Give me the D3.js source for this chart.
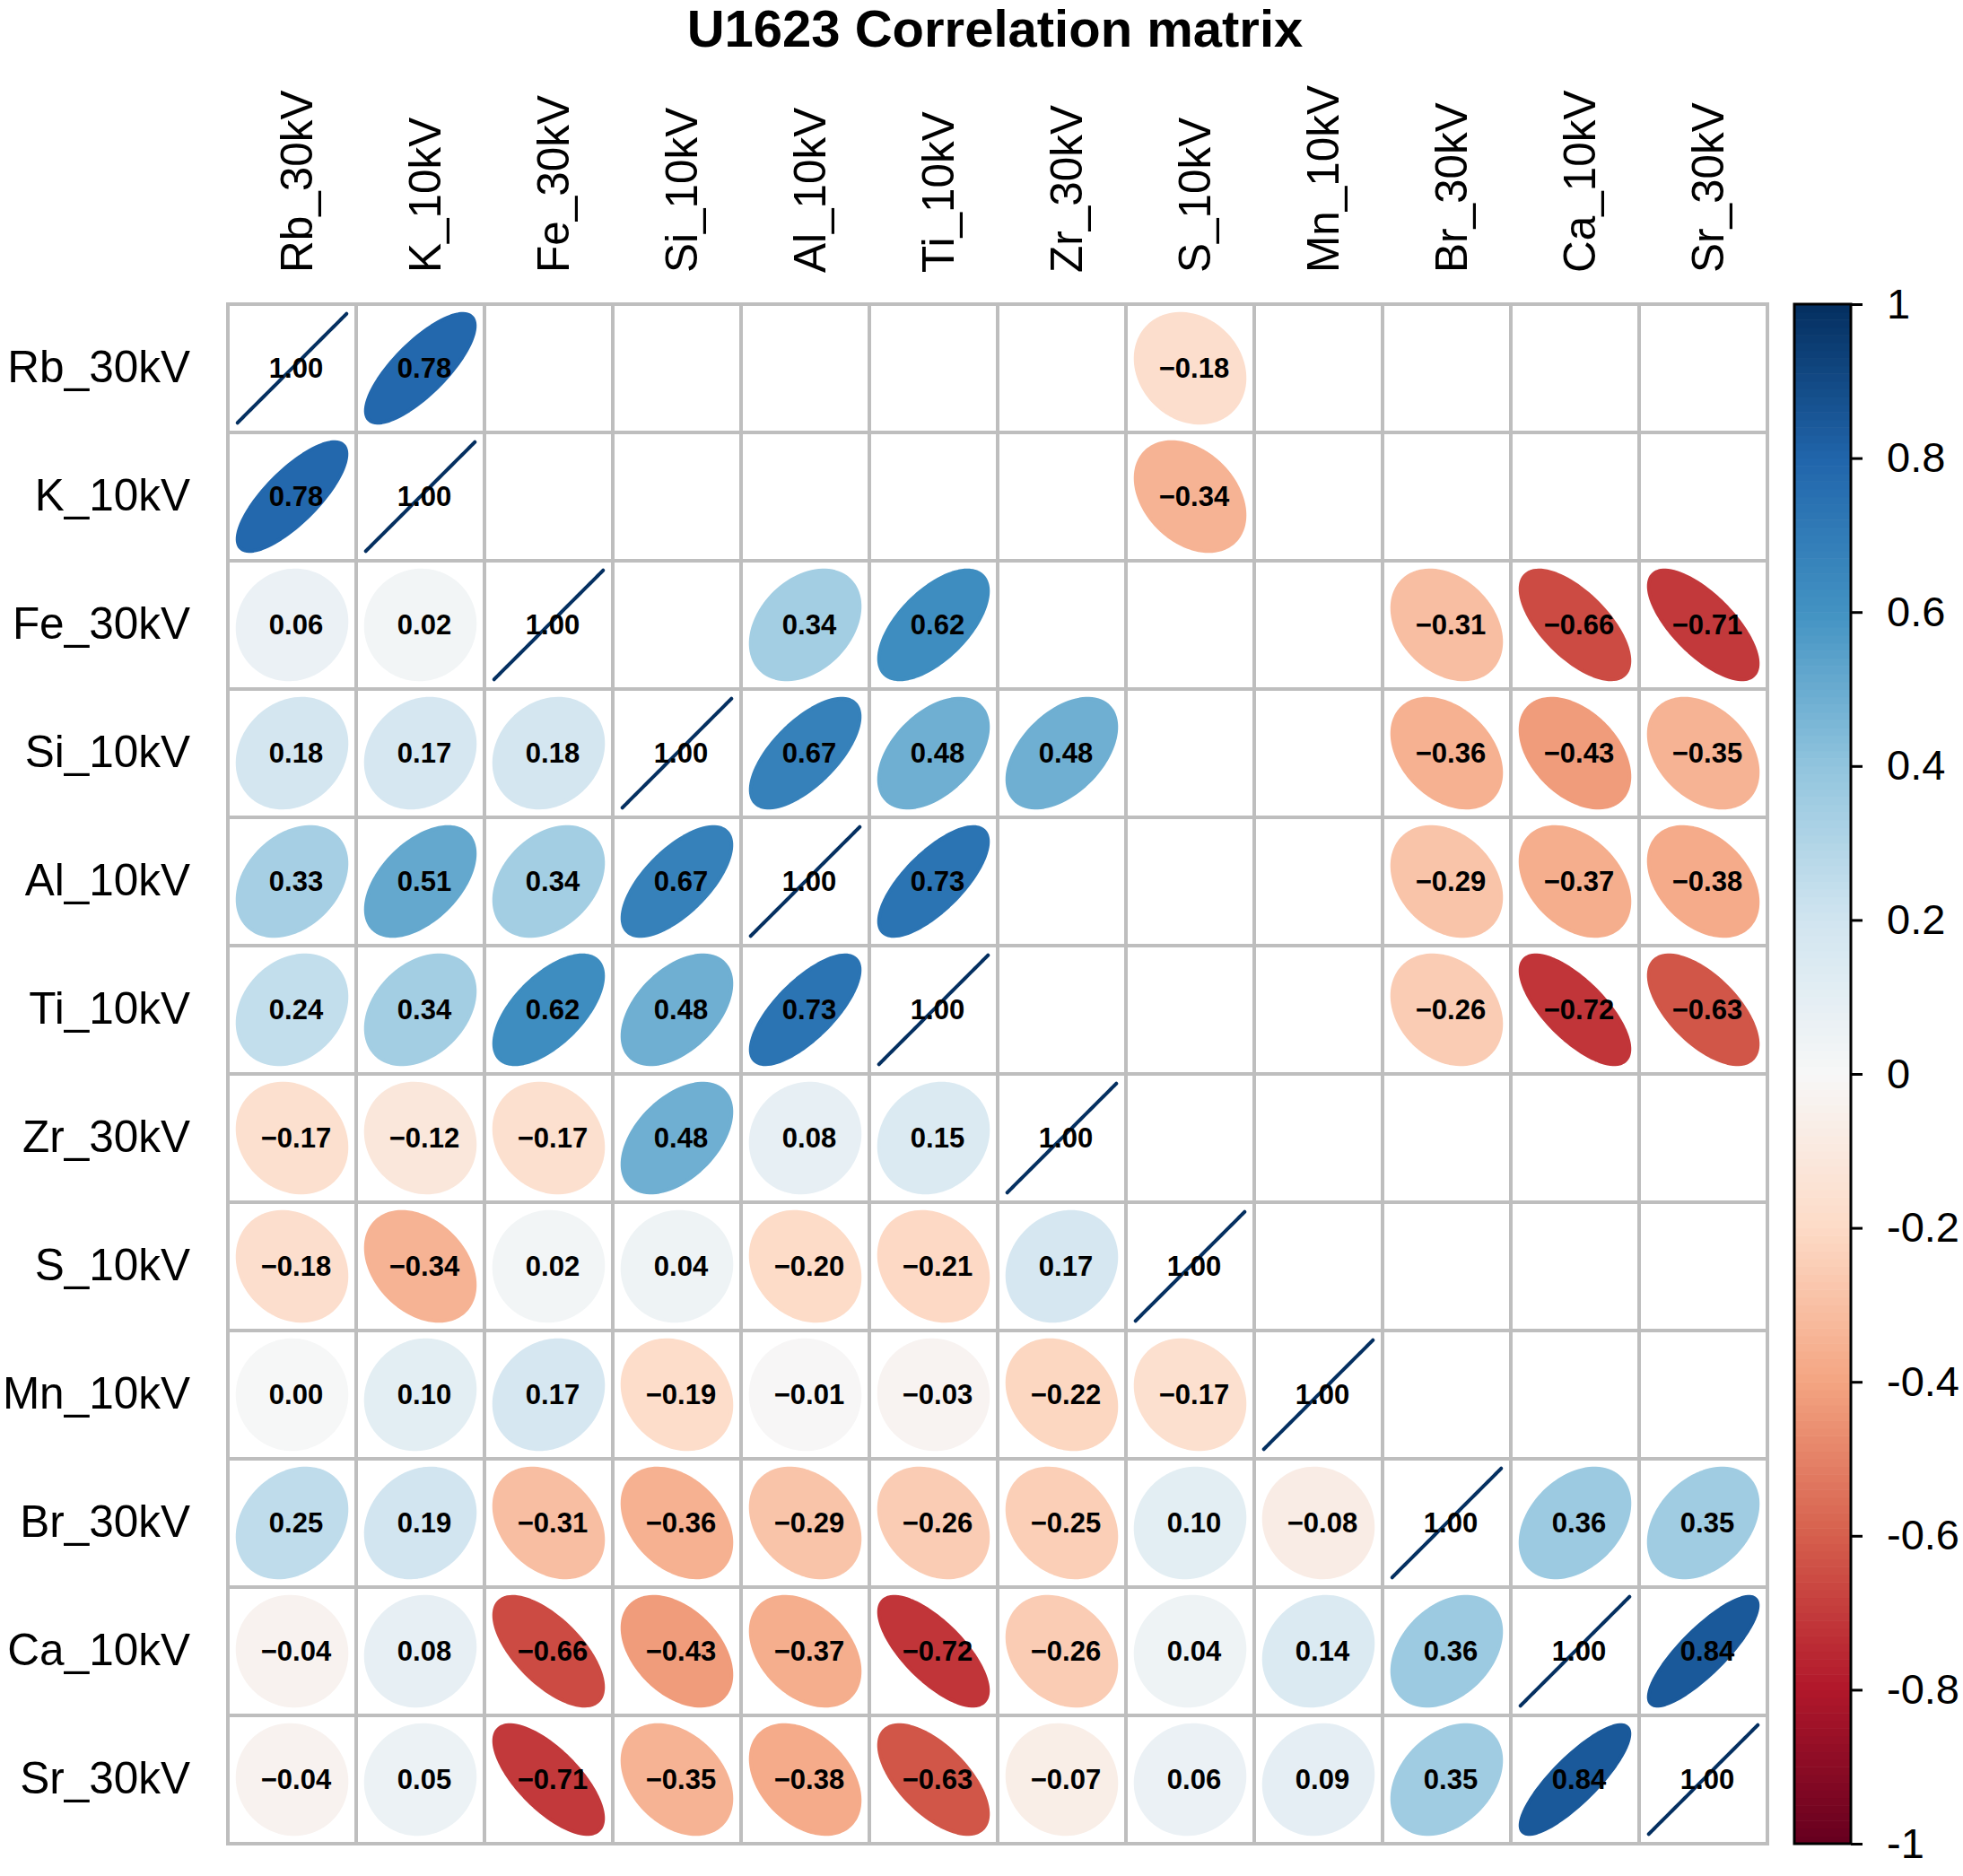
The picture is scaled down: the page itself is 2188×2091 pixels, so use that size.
<!DOCTYPE html>
<html>
<head>
<meta charset="utf-8">
<script src="https://cdn.jsdelivr.net/npm/d3@7"></script>
<style>
  body { margin: 0; background: #fff; }
  text { font-family: "Liberation Sans", Arial, sans-serif; }
</style>
</head>
<body>
<div id="chart"></div>
<script>
// variable order (rows top->bottom, columns left->right)
const vars = ["Rb_30kV", "K_10kV", "Fe_30kV", "Si_10kV", "Al_10kV", "Ti_10kV",
              "Zr_30kV", "S_10kV", "Mn_10kV", "Br_30kV", "Ca_10kV", "Sr_30kV"];

// lower triangle, row i holds correlations with columns 0..i-1
const lowerValues = [
  [],
  [0.78],
  [0.06, 0.02],
  [0.18, 0.17, 0.18],
  [0.33, 0.51, 0.34, 0.67],
  [0.24, 0.34, 0.62, 0.48, 0.73],
  [-0.17, -0.12, -0.17, 0.48, 0.08, 0.15],
  [-0.18, -0.34, 0.02, 0.04, -0.20, -0.21, 0.17],
  [0.00, 0.10, 0.17, -0.19, -0.01, -0.03, -0.22, -0.17],
  [0.25, 0.19, -0.31, -0.36, -0.29, -0.26, -0.25, 0.10, -0.08],
  [-0.04, 0.08, -0.66, -0.43, -0.37, -0.72, -0.26, 0.04, 0.14, 0.36],
  [-0.04, 0.05, -0.71, -0.35, -0.38, -0.63, -0.07, 0.06, 0.09, 0.35, 0.84]
];

// cells of the upper triangle that are drawn (the others are left blank)
const upperShown = [
  ["Rb_30kV", "K_10kV"], ["Rb_30kV", "S_10kV"],
  ["K_10kV", "S_10kV"],
  ["Fe_30kV", "Al_10kV"], ["Fe_30kV", "Ti_10kV"], ["Fe_30kV", "Br_30kV"], ["Fe_30kV", "Ca_10kV"], ["Fe_30kV", "Sr_30kV"],
  ["Si_10kV", "Al_10kV"], ["Si_10kV", "Ti_10kV"], ["Si_10kV", "Zr_30kV"], ["Si_10kV", "Br_30kV"], ["Si_10kV", "Ca_10kV"], ["Si_10kV", "Sr_30kV"],
  ["Al_10kV", "Ti_10kV"], ["Al_10kV", "Br_30kV"], ["Al_10kV", "Ca_10kV"], ["Al_10kV", "Sr_30kV"],
  ["Ti_10kV", "Br_30kV"], ["Ti_10kV", "Ca_10kV"], ["Ti_10kV", "Sr_30kV"],
  ["Br_30kV", "Ca_10kV"], ["Br_30kV", "Sr_30kV"],
  ["Ca_10kV", "Sr_30kV"]
];

const barTicks = [1, 0.8, 0.6, 0.4, 0.2, 0, -0.2, -0.4, -0.6, -0.8, -1];

// RdBu, from -1 to 1
const palette = ["#67001F", "#B2182B", "#D6604D", "#F4A582", "#FDDBC7", "#F7F7F7",
                 "#D1E5F0", "#92C5DE", "#4393C3", "#2166AC", "#053061"];

const W = 2188, H = 2091;
const grid = {left: 254, right: 1970, top: 339, bottom: 2055};

var svg = d3.select("#chart")
    .append("svg")
    .attr("width", W)
    .attr("height", H);

var x = d3.scaleBand().domain(vars).range([grid.left, grid.right]);
var y = d3.scaleBand().domain(vars).range([grid.top, grid.bottom]);
const bw = x.bandwidth();

var ramp = d3.piecewise(d3.interpolateRgb, palette);
var cols = d3.range(200).map(i => ramp(i / 199));
function colorOf(r) {
    var n = (r + 1) / 2;
    n = Math.min(Math.max(n, 0), 1 - 1e-12);
    return cols[Math.floor(n * 200)];
}

function corr(i, j) {
    if (i === j) return 1;
    return i > j ? lowerValues[i][j] : lowerValues[j][i];
}

// list of cells to draw
var cells = [];
for (var i = 0; i < vars.length; i++) {
    for (var j = 0; j <= i; j++) {
        cells.push({row: vars[i], col: vars[j], r: corr(i, j)});
    }
}
upperShown.forEach(function(p) {
    var i = vars.indexOf(p[0]), j = vars.indexOf(p[1]);
    cells.push({row: p[0], col: p[1], r: corr(i, j)});
});

// grid
var allCells = [];
vars.forEach(r => vars.forEach(c => allCells.push({row: r, col: c})));
svg.append("g")
    .selectAll("rect")
    .data(allCells)
    .enter().append("rect")
    .attr("x", d => x(d.col))
    .attr("y", d => y(d.row))
    .attr("width", bw)
    .attr("height", bw)
    .attr("fill", "#fff")
    .attr("stroke", "#BEBEBE")
    .attr("stroke-width", 4);

// ellipse shape (corrplot style), in cell units
var unit = d3.scaleLinear().domain([-0.5, 0.5]).range([-bw / 2, bw / 2]);
var ks = d3.range(99).map(i => i * 2 * Math.PI / 98);
function ellipsePath(d) {
    var a = Math.acos(Math.min(d.r, 1)) / 2;
    var cx = x(d.col) + bw / 2, cy = y(d.row) + bw / 2;
    var pts = ks.map(t => [cx + unit(0.85 * Math.cos(t + a) / 2),
                           cy - unit(0.85 * Math.cos(t - a) / 2)]);
    return d3.line()(pts) + "Z";
}

svg.append("g")
    .selectAll("path")
    .data(cells)
    .enter().append("path")
    .attr("d", ellipsePath)
    .attr("fill", d => colorOf(d.r))
    .attr("stroke", d => colorOf(d.r))
    .attr("stroke-width", 4)
    .attr("stroke-linejoin", "round")
    .attr("stroke-linecap", "round");

var fmt = d3.format(".2f");
svg.append("g")
    .selectAll("text")
    .data(cells)
    .enter().append("text")
    .attr("x", d => x(d.col) + bw / 2 + 4.5)
    .attr("y", d => y(d.row) + bw / 2)
    .attr("dy", "0.35em")
    .attr("text-anchor", "middle")
    .style("font-size", "31px")
    .style("font-weight", "bold")
    .text(d => fmt(d.r));

// row labels
svg.append("g")
    .selectAll("text")
    .data(vars)
    .enter().append("text")
    .attr("x", 212)
    .attr("y", d => y(d) + bw / 2)
    .attr("dy", "0.32em")
    .attr("text-anchor", "end")
    .style("font-size", "49.5px")
    .text(d => d);

// column labels
svg.append("g")
    .selectAll("text")
    .data(vars)
    .enter().append("text")
    .attr("transform", d => "translate(" + (x(d) + bw / 2 + 4.5) + ",304) rotate(-90)")
    .attr("dy", "0.36em")
    .attr("text-anchor", "start")
    .style("font-size", "49.5px")
    .text(d => d);

// title
svg.append("text")
    .attr("x", 1109)
    .attr("y", 52)
    .attr("text-anchor", "middle")
    .style("font-size", "58px")
    .style("font-weight", "bold")
    .text("U1623 Correlation matrix");

// colour legend
const bar = {left: 2000, right: 2063};
var yBar = d3.scaleLinear().domain([-1, 1]).range([grid.bottom, grid.top]);
var binEdges = d3.range(201).map(i => -1 + i * 2 / 200);
svg.append("g")
    .selectAll("rect")
    .data(cols)
    .enter().append("rect")
    .attr("x", bar.left)
    .attr("y", (d, i) => yBar(binEdges[i + 1]))
    .attr("width", bar.right - bar.left)
    .attr("height", (d, i) => yBar(binEdges[i]) - yBar(binEdges[i + 1]) + 0.6)
    .attr("fill", d => d);

svg.append("rect")
    .attr("x", bar.left)
    .attr("y", grid.top)
    .attr("width", bar.right - bar.left)
    .attr("height", grid.bottom - grid.top)
    .attr("fill", "none")
    .attr("stroke", "#000")
    .attr("stroke-width", 3);

var barAxis = svg.append("g")
    .attr("transform", "translate(" + bar.right + ",0)")
    .call(d3.axisRight(yBar)
        .tickValues(barTicks)
        .tickSize(13)
        .tickPadding(27)
        .tickFormat(d => String(d)));
barAxis.select(".domain").remove();
barAxis.selectAll(".tick line").attr("stroke", "#000").attr("stroke-width", 3);
barAxis.selectAll(".tick text")
    .attr("fill", "#000")
    .style("font-size", "47px")
    .style("font-family", "'Liberation Sans', Arial, sans-serif");
</script>
</body>
</html>
